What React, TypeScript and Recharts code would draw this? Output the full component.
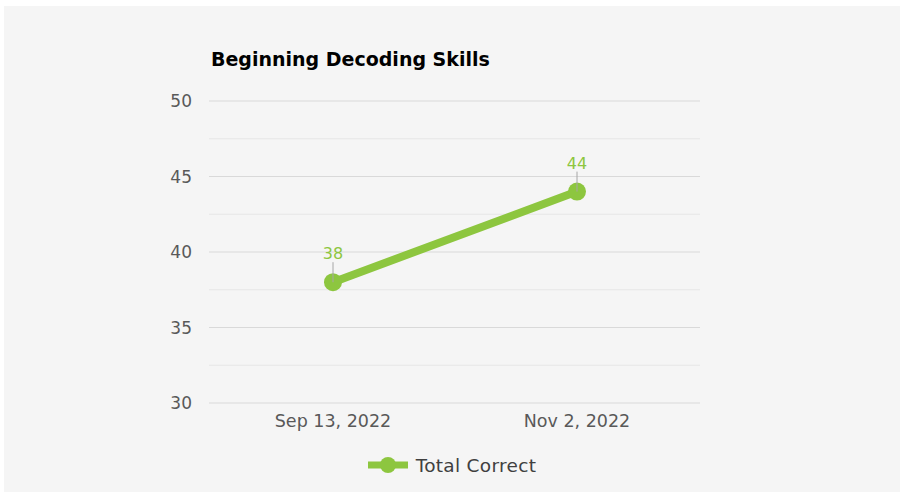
import React from "react";
import {
  LineChart,
  Line,
  XAxis,
  YAxis,
  CartesianGrid,
  ReferenceLine,
  Legend,
  LabelList,
} from "recharts";

const dates = ["Sep 13, 2022", "Nov 2, 2022"];
const totalCorrect = [38, 44];
const yTicks = [30, 35, 40, 45, 50];
const minorLines = [32.5, 37.5, 42.5, 47.5];

const data = dates.map((date, i) => ({ date, total: totalCorrect[i] }));

const GREEN = "#8DC63F";
const FONT = "'DejaVu Sans', sans-serif";

function PointLabel(props: any) {
  const { x, y, value } = props;
  return (
    <g>
      <line x1={x} y1={y - 20} x2={x} y2={y} stroke="#a6a6a6" strokeWidth={1} />
      <text
        x={x}
        y={y - 23}
        textAnchor="middle"
        fill={GREEN}
        fontSize={16}
        fontFamily={FONT}
      >
        {value}
      </text>
    </g>
  );
}

function LegendContent() {
  return (
    <div
      style={{
        height: 30,
        display: "flex",
        alignItems: "center",
        justifyContent: "center",
        fontFamily: FONT,
        fontSize: 18.5,
        letterSpacing: 0.3,
        color: "#404040",
      }}
    >
      <svg width={40} height={20} style={{ marginRight: 8 }}>
        <line x1={0} y1={10} x2={40} y2={10} stroke={GREEN} strokeWidth={7} />
        <circle cx={20} cy={10} r={8} fill={GREEN} />
      </svg>
      <span>Total Correct</span>
    </div>
  );
}

export default function App() {
  return (
    <div
      style={{
        position: "absolute",
        left: 4,
        top: 6,
        width: 896,
        height: 486,
        background: "#f5f5f5",
      }}
    >
      <div
        style={{
          position: "absolute",
          left: 207,
          top: 42,
          fontFamily: FONT,
          fontWeight: "bold",
          fontSize: 19,
          color: "#000",
          lineHeight: "22px",
          zIndex: 2,
        }}
      >
        Beginning Decoding Skills
      </div>
      <LineChart
        width={896}
        height={486}
        data={data}
        margin={{ top: 95, right: 200, left: 145, bottom: 29 }}
      >
        <CartesianGrid vertical={false} stroke="#d9d9d9" strokeWidth={1.2} />
        {minorLines.map((v) => (
          <ReferenceLine key={v} y={v} stroke="#e6e6e6" strokeWidth={1} />
        ))}
        <XAxis
          dataKey="date"
          padding={{ left: 124, right: 123 }}
          axisLine={false}
          tickLine={false}
          tickMargin={6}
          height={30}
          tick={{ fill: "#595959", fontSize: 17.5, fontFamily: FONT }}
        />
        <YAxis
          domain={[30, 50]}
          ticks={yTicks}
          width={60}
          axisLine={false}
          tickLine={false}
          tickMargin={11}
          tick={{ fill: "#595959", fontSize: 17, fontFamily: FONT }}
        />
        <Legend
          verticalAlign="bottom"
          content={<LegendContent />}
          wrapperStyle={{ bottom: 12, height: 30, left: 0, width: 896 }}
        />
        <Line
          name="Total Correct"
          dataKey="total"
          stroke={GREEN}
          strokeWidth={8}
          strokeLinecap="round"
          dot={{ r: 9, fill: GREEN, stroke: GREEN, strokeWidth: 0 }}
          activeDot={false}
          isAnimationActive={false}
        >
          <LabelList dataKey="total" content={<PointLabel />} />
        </Line>
      </LineChart>
    </div>
  );
}
